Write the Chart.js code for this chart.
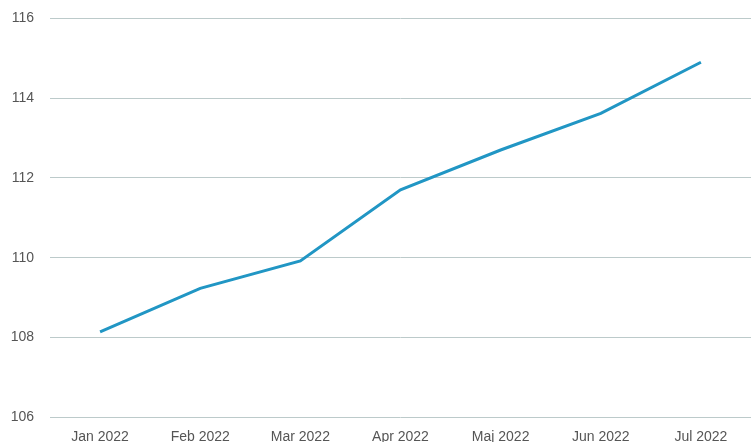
<!DOCTYPE html>
<html>
<head>
<meta charset="utf-8">
<script src="https://cdn.jsdelivr.net/npm/chart.js@4"></script>
<style>
  html, body { margin: 0; padding: 0; background: #fff; overflow: hidden; }
  #wrap { width: 751px; height: 450px; position: relative; top: -6px; }
</style>
</head>
<body>
<div id="wrap"><canvas id="indexChart"></canvas></div>
<script>
// months on the x axis
const months = ['Jan 2022', 'Feb 2022', 'Mar 2022', 'Apr 2022', 'Maj 2022', 'Jun 2022', 'Jul 2022'];
// index values
const indexValues = [108.14, 109.23, 109.92, 111.7, 112.7, 113.62, 114.9];
// y ticks
const yMin = 106;
const yMax = 116;
const yStep = 2;

var ctx = document.getElementById('indexChart').getContext('2d');
var chart = new Chart(ctx, {
    type: 'line',
    data: {
        labels: months,
        datasets: [{
            data: indexValues,
            borderColor: '#2196c4',
            borderWidth: 3,
            pointRadius: 0,
            tension: 0,
            fill: false
        }]
    },
    options: {
        responsive: true,
        maintainAspectRatio: false,
        animation: false,
        plugins: {
            legend: { display: false },
            tooltip: { enabled: false }
        },
        layout: {
            padding: { top: 0, right: 0, bottom: -14, left: 6 }
        },
        scales: {
            x: {
                offset: true,
                grid: { display: false, drawTicks: false },
                border: { display: false },
                ticks: {
                    color: '#555',
                    font: { family: 'Liberation Sans', size: 14 },
                    padding: 12,
                    maxRotation: 0
                }
            },
            y: {
                min: yMin,
                max: yMax,
                grid: { color: '#bccaca', lineWidth: 1, drawTicks: false },
                border: { display: false },
                afterFit: function (scale) { scale.width = 44; },
                ticks: {
                    stepSize: yStep,
                    color: '#555',
                    font: { family: 'Liberation Sans', size: 14 },
                    padding: 16
                }
            }
        }
    }
});
</script>
</body>
</html>
